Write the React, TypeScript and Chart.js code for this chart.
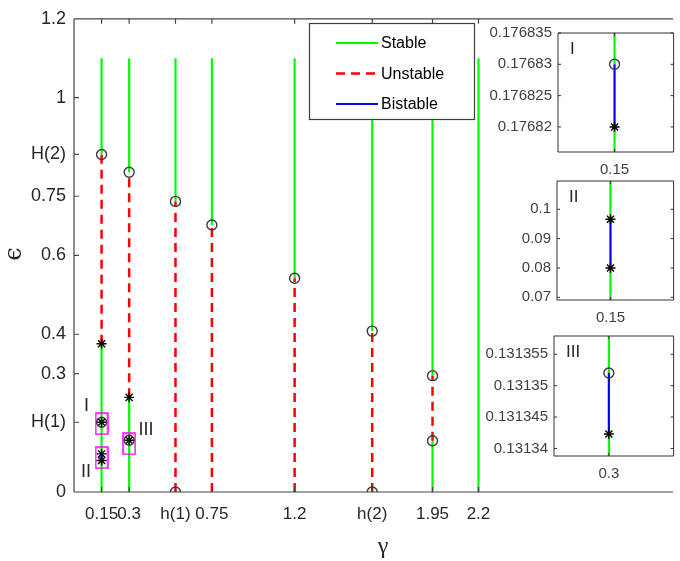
import React, { useEffect, useRef } from "react";
import { Chart, registerables } from "chart.js";
Chart.register(...registerables);

Chart.defaults.font.family = "'Liberation Sans', Arial, sans-serif";

// ---------- main chart data ----------
const h1 = 0.552;
const h2 = 1.622;
const H1 = 0.17683;
const H2 = 0.856;

const xTickValues = [0.15, 0.3, h1, 0.75, 1.2, h2, 1.95, 2.2];
const xTickLabels = ["0.15", "0.3", "h(1)", "0.75", "1.2", "h(2)", "1.95", "2.2"];
const yTickValues = [0, H1, 0.3, 0.4, 0.6, 0.75, H2, 1, 1.2];
const yTickLabels = ["0", "H(1)", "0.3", "0.4", "0.6", "0.75", "H(2)", "1", "1.2"];

type Seg = [number, number, number]; // [gamma, epsStart, epsEnd]

const stableSegments: Seg[] = [
  [0.15, H2, 1.1], [0.15, 0, 0.376],
  [0.3, 0.811, 1.1], [0.3, 0, 0.24],
  [h1, 0.737, 1.1],
  [0.75, 0.677, 1.1],
  [1.2, 0.542, 1.1],
  [h2, 0.408, 1.1],
  [1.95, 0.295, 1.1], [1.95, 0, 0.13],
  [2.2, 0, 1.1],
];
const unstableSegments: Seg[] = [
  [0.15, 0.376, H2],
  [0.3, 0.24, 0.811],
  [h1, 0, 0.737],
  [0.75, 0, 0.677],
  [1.2, 0, 0.542],
  [h2, 0, 0.408],
  [1.95, 0.13, 0.295],
];
const bistableSegments: Seg[] = [
  [0.15, 0.17682, 0.17683],
  [0.15, 0.08, 0.0966],
  [0.3, 0.131342, 0.131352],
];
const circleX = [0.15, 0.3, h1, h1, 0.75, 1.2, h2, h2, 1.95, 1.95, 0.15, 0.3];
const circleY = [H2, 0.811, 0.737, 0, 0.677, 0.542, 0.408, 0, 0.295, 0.13, 0.17683, 0.131352];
const starX = [0.15, 0.3, 0.15, 0.15, 0.15, 0.3];
const starY = [0.376, 0.24, 0.17682, 0.0966, 0.08, 0.131342];
const boxX = [0.15, 0.15, 0.3];
const boxY = [0.173, 0.087, 0.122];
const noteLabels = ["I", "II", "III"];
const noteX = [0.068, 0.065, 0.391];
const noteY = [0.218, 0.051, 0.156];

// ---------- inset data ----------
const inset1XRange = [0.1, 0.2022];
const inset1YRange = [0.176816, 0.176835];
const inset1XTick = 0.15;
const inset1YTicks = [0.17682, 0.176825, 0.17683, 0.176835];
const inset1YLabels = ["0.17682", "0.176825", "0.17683", "0.176835"];
const inset1Stable: Seg[] = [[0.15, 0.176816, 0.17682], [0.15, 0.17683, 0.176835]];
const inset1Bistable: Seg[] = [[0.15, 0.17682, 0.17683]];
const inset1Circles = [0.17683];
const inset1Stars = [0.17682];

const inset2XRange = [0.1, 0.209];
const inset2YRange = [0.06908, 0.10965];
const inset2XTick = 0.15;
const inset2YTicks = [0.07, 0.08, 0.09, 0.1];
const inset2YLabels = ["0.07", "0.08", "0.09", "0.1"];
const inset2Stable: Seg[] = [[0.15, 0.06908, 0.08], [0.15, 0.0966, 0.10965]];
const inset2Bistable: Seg[] = [[0.15, 0.08, 0.0966]];
const inset2Circles: number[] = [];
const inset2Stars = [0.08, 0.0966];

const inset3XRange = [0.25, 0.359];
const inset3YRange = [0.1313388, 0.1313579];
const inset3XTick = 0.3;
const inset3YTicks = [0.13134, 0.131345, 0.13135, 0.131355];
const inset3YLabels = ["0.13134", "0.131345", "0.13135", "0.131355"];
const inset3Stable: Seg[] = [[0.3, 0.1313388, 0.1313423], [0.3, 0.131352, 0.1313579]];
const inset3Bistable: Seg[] = [[0.3, 0.1313423, 0.131352]];
const inset3Circles = [0.131352];
const inset3Stars = [0.1313423];

// ---------- helpers ----------
const W = 680;
const H = 561;
const GREEN = "#00ff00";
const RED = "#ff0000";
const BLUE = "#0000ff";
const TEXT = "#262626";

function segData(segs: Seg[]) {
  const out: any[] = [];
  segs.forEach(([x, a, b]) => {
    out.push({ x, y: a }, { x, y: b }, { x, y: null });
  });
  return out;
}
function ptData(xs: number[], ys: number[]) {
  return xs.map((x, i) => ({ x, y: ys[i] }));
}

function lineDs(label: string, segs: Seg[], color: string, dash: number[], order: number, width = 2) {
  return {
    type: "line" as const,
    label,
    data: segData(segs),
    borderColor: color,
    backgroundColor: color,
    borderWidth: width,
    borderDash: dash,
    pointRadius: 0,
    spanGaps: false,
    fill: false,
    order,
  };
}
function circleDs(data: any[]) {
  return {
    type: "scatter" as const,
    label: "_circle",
    data,
    pointStyle: "circle",
    pointRadius: 5,
    borderColor: "#3a3a3a",
    backgroundColor: "rgba(0,0,0,0)",
    borderWidth: 1.4,
    order: 0,
  };
}
function starDs(data: any[]) {
  return {
    type: "scatter" as const,
    label: "_star",
    data,
    pointStyle: "star",
    pointRadius: 5,
    borderColor: "#000",
    backgroundColor: "#000",
    borderWidth: 1.4,
    order: 0,
  };
}

const framePlugin = {
  id: "frame",
  afterDatasetsDraw(chart: any, _a: any, opts: any) {
    const { ctx, chartArea: ca, scales } = chart;
    ctx.save();
    ctx.strokeStyle = opts.color || "#444";
    ctx.lineWidth = opts.width || 1;
    ctx.beginPath();
    ctx.moveTo(ca.left, ca.top); ctx.lineTo(ca.right, ca.top);
    ctx.moveTo(ca.left, ca.bottom); ctx.lineTo(ca.right, ca.bottom);
    ctx.moveTo(ca.left, ca.top); ctx.lineTo(ca.left, ca.bottom);
    if (opts.right) { ctx.moveTo(ca.right, ca.top); ctx.lineTo(ca.right, ca.bottom); }
    const tl = opts.tick || 5;
    scales.x.ticks.forEach((t: any) => {
      const px = scales.x.getPixelForValue(t.value);
      ctx.moveTo(px, ca.bottom); ctx.lineTo(px, ca.bottom - tl);
      ctx.moveTo(px, ca.top); ctx.lineTo(px, ca.top + tl);
    });
    scales.y.ticks.forEach((t: any) => {
      const py = scales.y.getPixelForValue(t.value);
      ctx.moveTo(ca.left, py); ctx.lineTo(ca.left + tl, py);
      if (opts.right) { ctx.moveTo(ca.right, py); ctx.lineTo(ca.right - tl, py); }
    });
    ctx.stroke();
    ctx.restore();
  },
};

const whiteAreaPlugin = {
  id: "whiteArea",
  beforeDraw(chart: any) {
    const { ctx, chartArea: ca } = chart;
    ctx.save();
    ctx.fillStyle = "#fff";
    ctx.fillRect(ca.left, ca.top, ca.right - ca.left, ca.bottom - ca.top);
    ctx.restore();
  },
};

const mainExtrasPlugin = {
  id: "mainExtras",
  afterDraw(chart: any) {
    const { ctx, scales } = chart;
    ctx.save();
    ctx.fillStyle = TEXT;
    ctx.font = "18px 'Liberation Sans', Arial, sans-serif";
    ctx.textAlign = "center";
    ctx.textBaseline = "middle";
    noteLabels.forEach((s, i) => {
      ctx.fillText(s, scales.x.getPixelForValue(noteX[i]), scales.y.getPixelForValue(noteY[i]));
    });
    // axis titles
    ctx.font = "24px 'Liberation Serif', 'DejaVu Serif', serif";
    ctx.fillText("γ", 383, 547);
    ctx.translate(15, 254);
    ctx.rotate(-Math.PI / 2);
    ctx.font = "24px 'DejaVu Serif', serif";
    ctx.fillText("ϵ", 0, 0);
    ctx.restore();

    // legend
    const items = chart.data.datasets.filter((d: any) => ["Stable", "Unstable", "Bistable"].includes(d.label));
    ctx.save();
    ctx.fillStyle = "#fff";
    ctx.strokeStyle = "#3c3c3c";
    ctx.lineWidth = 1.2;
    ctx.fillRect(309.5, 23.5, 165, 96);
    ctx.strokeRect(309.5, 23.5, 165, 96);
    items.forEach((d: any, i: number) => {
      const y = 43 + i * 30.5;
      ctx.beginPath();
      ctx.strokeStyle = d.borderColor;
      ctx.lineWidth = d.borderWidth;
      ctx.setLineDash(d.borderDash || []);
      ctx.moveTo(336, y); ctx.lineTo(378, y);
      ctx.stroke();
      ctx.setLineDash([]);
      ctx.fillStyle = "#000";
      ctx.font = "16px 'Liberation Sans', Arial, sans-serif";
      ctx.textAlign = "left";
      ctx.textBaseline = "middle";
      ctx.fillText(d.label, 381, y + 1);
    });
    ctx.restore();
  },
};

function makeBoxImage() {
  const c = document.createElement("canvas");
  c.width = 14; c.height = 23;
  const g = c.getContext("2d")!;
  g.strokeStyle = "#ff00ff";
  g.lineWidth = 1.5;
  g.strokeRect(1, 1, 12, 21);
  return c;
}

function makeMain(canvas: HTMLCanvasElement) {
  const boxImg = makeBoxImage();
  return new Chart(canvas, {
    type: "line",
    data: {
      datasets: [
        lineDs("Stable", stableSegments, GREEN, [], 4, 2.2),
        lineDs("Unstable", unstableSegments, RED, [9, 6], 3, 2.5),
        lineDs("Bistable", bistableSegments, BLUE, [], 2, 2.2),
        {
          type: "scatter",
          label: "_box",
          data: ptData(boxX, boxY),
          pointStyle: boxImg as any,
          pointRadius: 6,
          order: 1,
        } as any,
        circleDs(ptData(circleX, circleY)),
        starDs(ptData(starX, starY)),
      ] as any,
    },
    options: {
      animation: false,
      responsive: false,
      events: [],
      layout: { padding: { left: 0, top: 14, right: 0, bottom: 0 } },
      plugins: { legend: { display: false }, tooltip: { enabled: false }, frame: { color: "#444", width: 1.2, tick: 5 } } as any,
      scales: {
        x: {
          type: "linear",
          min: 0,
          max: 3.258,
          grid: { display: false, drawTicks: false },
          border: { display: false },
          afterBuildTicks: (s: any) => { s.ticks = xTickValues.map((v) => ({ value: v })); },
          afterFit: (s: any) => { s.height = 69; },
          ticks: {
            autoSkip: false, maxRotation: 0, padding: 12, color: TEXT,
            font: { size: 17 },
            callback: (_v: any, i: number) => xTickLabels[i],
          },
        },
        y: {
          type: "linear",
          min: 0,
          max: 1.2,
          grid: { display: false, drawTicks: false },
          border: { display: false },
          afterBuildTicks: (s: any) => { s.ticks = yTickValues.map((v) => ({ value: v })); },
          afterFit: (s: any) => { s.width = 74; },
          ticks: {
            autoSkip: false, padding: 8, color: TEXT,
            font: { size: 18 },
            callback: (_v: any, i: number) => yTickLabels[i],
          },
        },
      },
    },
    plugins: [framePlugin, mainExtrasPlugin],
  });
}

type InsetCfg = {
  box: [number, number, number, number]; // left, top, right, bottom
  xRange: number[]; yRange: number[]; xTick: number; yTicks: number[]; yLabels: string[];
  stable: Seg[]; bistable: Seg[]; circles: number[]; stars: number[]; name: string; xLabel: string;
};

function makeInset(canvas: HTMLCanvasElement, cfg: InsetCfg) {
  const [l, t, r, b] = cfg.box;
  const yW = 70;
  const xH = 36;
  const namePlugin = {
    id: "insetName",
    afterDraw(chart: any) {
      const { ctx, chartArea: ca } = chart;
      ctx.save();
      ctx.fillStyle = TEXT;
      ctx.font = "17px 'Liberation Sans', Arial, sans-serif";
      ctx.textAlign = "left";
      ctx.textBaseline = "middle";
      ctx.fillText(cfg.name, ca.left + 12, ca.top + 16);
      ctx.restore();
    },
  };
  return new Chart(canvas, {
    type: "line",
    data: {
      datasets: [
        lineDs("Stable", cfg.stable, GREEN, [], 4, 2.2),
        lineDs("Bistable", cfg.bistable, BLUE, [], 2, 2.2),
        circleDs(cfg.circles.map((y) => ({ x: cfg.xTick, y }))),
        starDs(cfg.stars.map((y) => ({ x: cfg.xTick, y }))),
      ] as any,
    },
    options: {
      animation: false,
      responsive: false,
      events: [],
      layout: { padding: { left: l - yW, top: t, right: W - r, bottom: H - b - xH } },
      plugins: { legend: { display: false }, tooltip: { enabled: false }, frame: { color: "#333", width: 1, tick: 3, right: true } } as any,
      scales: {
        x: {
          type: "linear",
          min: cfg.xRange[0],
          max: cfg.xRange[1],
          grid: { display: false, drawTicks: false },
          border: { display: false },
          afterBuildTicks: (s: any) => { s.ticks = [{ value: cfg.xTick }]; },
          afterFit: (s: any) => { s.height = xH; },
          ticks: { autoSkip: false, maxRotation: 0, padding: 9, color: "#404040", font: { size: 15 }, callback: () => cfg.xLabel },
        },
        y: {
          type: "linear",
          min: cfg.yRange[0],
          max: cfg.yRange[1],
          grid: { display: false, drawTicks: false },
          border: { display: false },
          afterBuildTicks: (s: any) => { s.ticks = cfg.yTicks.map((v) => ({ value: v })); },
          afterFit: (s: any) => { s.width = yW; },
          ticks: { autoSkip: false, padding: 6, color: "#404040", font: { size: 15 }, callback: (_v: any, i: number) => cfg.yLabels[i] },
        },
      },
    },
    plugins: [whiteAreaPlugin, framePlugin, namePlugin],
  });
}

const insets: InsetCfg[] = [
  { box: [558, 33, 676, 152], xRange: inset1XRange, yRange: inset1YRange, xTick: inset1XTick, yTicks: inset1YTicks, yLabels: inset1YLabels, stable: inset1Stable, bistable: inset1Bistable, circles: inset1Circles, stars: inset1Stars, name: "I", xLabel: "0.15" },
  { box: [557, 181, 676, 300], xRange: inset2XRange, yRange: inset2YRange, xTick: inset2XTick, yTicks: inset2YTicks, yLabels: inset2YLabels, stable: inset2Stable, bistable: inset2Bistable, circles: inset2Circles, stars: inset2Stars, name: "II", xLabel: "0.15" },
  { box: [554, 336, 674, 456], xRange: inset3XRange, yRange: inset3YRange, xTick: inset3XTick, yTicks: inset3YTicks, yLabels: inset3YLabels, stable: inset3Stable, bistable: inset3Bistable, circles: inset3Circles, stars: inset3Stars, name: "III", xLabel: "0.3" },
];

export default function App() {
  const mainRef = useRef<HTMLCanvasElement>(null);
  const r1 = useRef<HTMLCanvasElement>(null);
  const r2 = useRef<HTMLCanvasElement>(null);
  const r3 = useRef<HTMLCanvasElement>(null);

  useEffect(() => {
    const charts: Chart[] = [];
    if (mainRef.current) charts.push(makeMain(mainRef.current));
    [r1, r2, r3].forEach((r, i) => {
      if (r.current) charts.push(makeInset(r.current, insets[i]));
    });
    return () => charts.forEach((c) => c.destroy());
  }, []);

  const cs: React.CSSProperties = { position: "absolute", left: 0, top: 0, width: W, height: H };
  return (
    <div style={{ position: "fixed", left: 0, top: 0, width: W, height: H, background: "#fff", overflow: "hidden" }}>
      <canvas ref={mainRef} width={W} height={H} style={cs} />
      <canvas ref={r1} width={W} height={H} style={cs} />
      <canvas ref={r2} width={W} height={H} style={cs} />
      <canvas ref={r3} width={W} height={H} style={cs} />
    </div>
  );
}
